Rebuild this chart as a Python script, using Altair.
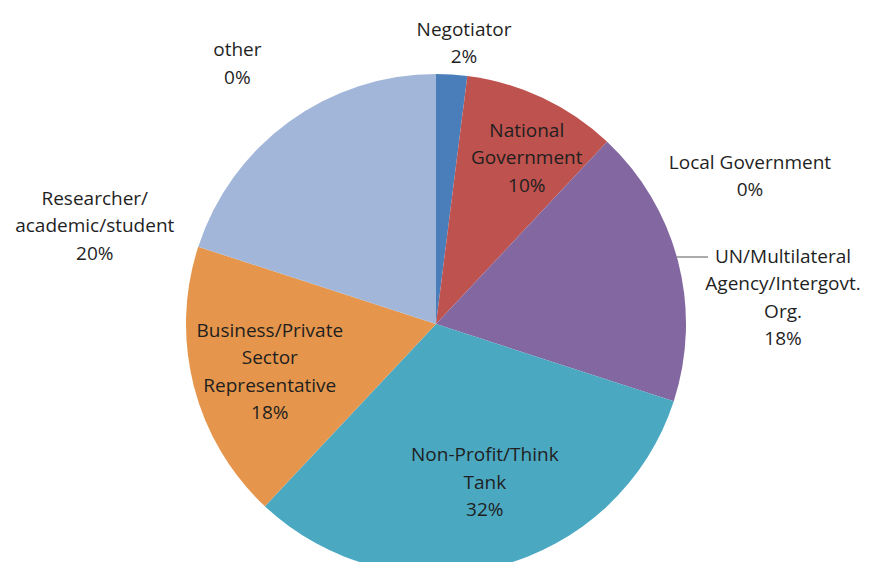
import math
import altair as alt
import pandas as pd

# ---- data ----
categories = [
    "Negotiator",
    "National Government",
    "Local Government",
    "UN/Multilateral Agency/Intergovt. Org.",
    "Non-Profit/Think Tank",
    "Business/Private Sector Representative",
    "Researcher/academic/student",
    "other",
]
shares = [2, 10, 0, 18, 32, 18, 20, 0]
label_text = [
    "Negotiator\n2%",
    "National\nGovernment\n10%",
    "Local Government\n0%",
    "UN/Multilateral\nAgency/Intergovt.\nOrg.\n18%",
    "Non-Profit/Think\nTank\n32%",
    "Business/Private\nSector\nRepresentative\n18%",
    "Researcher/\nacademic/student\n20%",
    "other\n0%",
]
colors = ["#4a7ebb", "#be524e", "#9bbb59", "#8367a0", "#4ba8c1", "#e5964c", "#a2b6d9", "#f2f2f2"]

# ---- layout (label block centre, polar: degrees clockwise from top, pixels) ----
label_angle_deg = [5.7, 28.7, 64.8, 85.7, 162.9, 253.9, 286.0, 322.6]
label_radius = [282, 189, 347, 348, 166, 173, 355, 327]

W, H = 853, 554
CX, CY = 428, 316
R = 250
LINE_H = 27.5

# Vega anchors the first line of a multi-line label; move the anchor up so the
# block is centred on its layout point, then express it back in polar form.
angs, rads = [], []
for a_deg, r, txt in zip(label_angle_deg, label_radius, label_text):
    a = math.radians(a_deg)
    n = txt.count("\n") + 1
    px = r * math.sin(a)
    py = -r * math.cos(a) - (n - 1) * LINE_H / 2
    angs.append(math.atan2(px, -py))
    rads.append(math.hypot(px, py))

df = pd.DataFrame({
    "category": categories,
    "share": shares,
    "order": list(range(len(categories))),
    "label": label_text,
    "ang": angs,
    "rad": rads,
})

color_scale = alt.Scale(domain=categories, range=colors)

pie = alt.Chart(df).mark_arc(radius=R).encode(
    x=alt.value(CX),
    y=alt.value(CY),
    theta=alt.Theta("share:Q", stack=True),
    order=alt.Order("order:Q"),
    color=alt.Color("category:N", scale=color_scale, legend=None),
)

labels = alt.Chart(df).mark_text(
    lineBreak="\n",
    font="Open Sans",
    fontSize=19,
    lineHeight=LINE_H,
    color="#1f1f1f",
    align="center",
    baseline="middle",
).encode(
    x=alt.value(CX),
    y=alt.value(CY),
    theta=alt.Theta("ang:Q", scale=None, stack=False),
    radius=alt.Radius("rad:Q", scale=None),
    text="label:N",
)

# leader line for the UN label
lead_dy = 67
lead_x1 = CX + math.sqrt(R * R - lead_dy * lead_dy)
lead_x2 = CX + 272
leader = alt.Chart(df.head(1)).mark_rule(color="#595959", strokeWidth=1).encode(
    x=alt.value(lead_x1),
    x2=alt.value(lead_x2),
    y=alt.value(CY - lead_dy),
)

chart = alt.layer(pie, leader, labels).properties(
    width=W,
    height=H,
    autosize=alt.AutoSizeParams(type="none"),
    padding=0,
).configure_view(stroke=None)

chart.save("out.html", embed_options={"renderer": "svg", "actions": False})
